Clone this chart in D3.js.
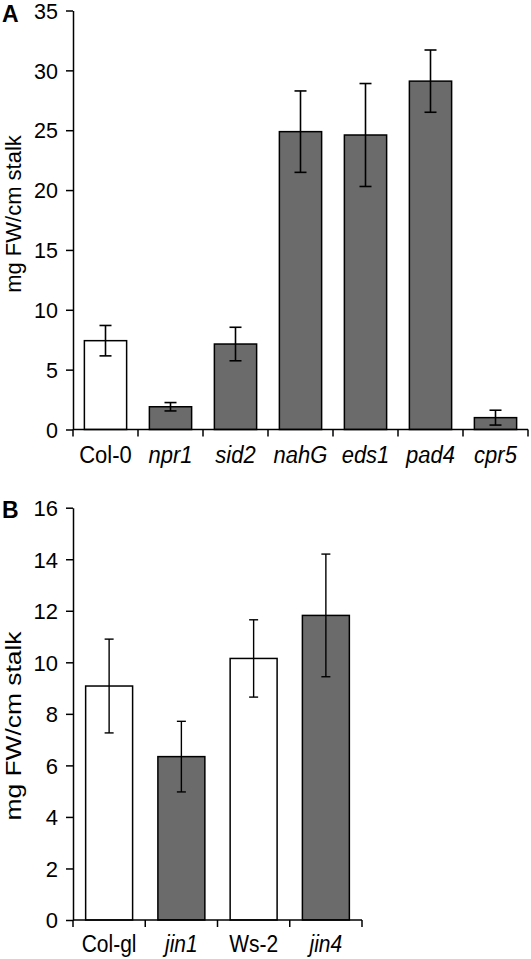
<!DOCTYPE html>
<html><head><meta charset="utf-8">
<script src="https://cdn.jsdelivr.net/npm/d3@7"></script>
<style>
html,body{margin:0;padding:0;background:#fff;}
svg{display:block;font-family:"Liberation Sans",Arial,sans-serif;}
</style></head>
<body>
<svg id="chart" width="531" height="959"></svg>
<script>
// Panel A data
const categoriesA = ["Col-0","npr1","sid2","nahG","eds1","pad4","cpr5"];
const italicA = [false,true,true,true,true,true,true];
const wildTypeA = [true,false,false,false,false,false,false];
const valuesA = [7.42,1.9,7.14,24.88,24.6,29.1,0.99];
const errorsA = [1.27,0.35,1.4,3.4,4.3,2.6,0.62];
const ticksA = [0,5,10,15,20,25,30,35];

// Panel B data
const categoriesB = ["Col-gl","jin1","Ws-2","jin4"];
const italicB = [false,true,false,true];
const wildTypeB = [true,false,true,false];
const valuesB = [9.08,6.34,10.15,11.82];
const errorsB = [1.82,1.37,1.5,2.38];
const ticksB = [0,2,4,6,8,10,12,14,16];

const yTitle = "mg FW/cm stalk";
const FONT = "Liberation Sans, Arial, sans-serif";

const svg = d3.select("#chart");

function panel(cfg){
  const g = svg.append("g");
  const x = d3.scaleBand().domain(cfg.cats).range([cfg.x0, cfg.x1])
    .paddingInner(0.35).paddingOuter(0.175);
  const y = d3.scaleLinear().domain([0, cfg.ymax]).range([cfg.yb, cfg.yt]);
  const data = cfg.cats.map((c,i)=>({c, v:cfg.vals[i], e:cfg.errs[i], it:cfg.ital[i], wt:cfg.wt[i]}));

  // bars
  g.selectAll("rect.bar").data(data).enter().append("rect")
    .attr("x", d=>x(d.c)).attr("width", x.bandwidth())
    .attr("y", d=>y(d.v)).attr("height", d=>y(0)-y(d.v))
    .attr("fill", d=>d.wt ? "#ffffff" : "#6b6b6b")
    .attr("stroke", "#000").attr("stroke-width", 1.5);

  // error bars
  const cap = cfg.cap;
  const cx = d=>x(d.c)+x.bandwidth()/2;
  const eb = g.selectAll("g.err").data(data).enter().append("g")
    .attr("stroke","#000").attr("stroke-width", cfg.ew);
  eb.append("line").attr("x1", cx).attr("x2", cx)
    .attr("y1", d=>y(d.v+d.e)).attr("y2", d=>y(d.v-d.e));
  eb.append("line").attr("x1", d=>cx(d)-cap/2).attr("x2", d=>cx(d)+cap/2)
    .attr("y1", d=>y(d.v+d.e)).attr("y2", d=>y(d.v+d.e));
  eb.append("line").attr("x1", d=>cx(d)-cap/2).attr("x2", d=>cx(d)+cap/2)
    .attr("y1", d=>y(d.v-d.e)).attr("y2", d=>y(d.v-d.e));

  // y axis
  const ya = g.append("g").attr("transform", `translate(${cfg.x0},0)`)
    .call(d3.axisLeft(y).tickValues(cfg.ticks).tickSize(7).tickPadding(8).tickSizeOuter(0));
  ya.select(".domain").attr("stroke-width",1.5);
  ya.selectAll(".tick line").attr("stroke-width",1.5);
  ya.selectAll(".tick text").attr("font-size", cfg.tfs).attr("fill","#000")
    .attr("font-family", FONT).attr("dy", "0.36em");

  // x axis: labels at band centers, ticks at band boundaries
  const xa = g.append("g").attr("transform", `translate(0,${cfg.yb})`)
    .call(d3.axisBottom(x).tickSize(0).tickSizeOuter(0));
  xa.select(".domain").attr("stroke-width",1.5).attr("d", `M${cfg.x0},0H${cfg.x1}`);
  xa.selectAll(".tick text").attr("font-size", cfg.xfs).attr("fill","#000")
    .attr("font-family", FONT).attr("y", 0).attr("dy", 0)
    .attr("transform", `translate(0,${cfg.xbase}) scale(1,${cfg.xsy})`)
    .attr("font-style", (d,i)=>data[i].it ? "italic" : "normal");
  const step = x.step();
  const bounds = cfg.cats.map(c=>x(c) - x.paddingInner()*step/2).concat([cfg.x1]);
  xa.selectAll("line.bt").data(bounds).enter().append("line")
    .attr("x1", d=>d).attr("x2", d=>d).attr("y1",0).attr("y2",7)
    .attr("stroke","#000").attr("stroke-width",1.5);

  // y title
  g.append("text").attr("transform", `translate(${cfg.titleX},${cfg.titleY}) scale(1,${cfg.titleSy}) rotate(-90)`)
    .attr("text-anchor","middle").attr("font-size", cfg.titleFs).attr("font-family", FONT).text(yTitle);

  // panel letter
  g.append("text").attr("x", 2).attr("y", cfg.letterY).attr("font-weight","bold")
    .attr("font-family", FONT).attr("font-size", 23).text(cfg.letter);
}

panel({cats:categoriesA, vals:valuesA, errs:errorsA, ital:italicA, wt:wildTypeA, ticks:ticksA,
  ymax:35, x0:73, x1:528, yb:429.5, yt:10.5, cap:12, ew:1.6, tfs:21.5, xfs:22, xbase:33, xsy:1.05,
  titleX:20.5, titleY:214, titleSy:1.0, titleFs:22, letter:"A", letterY:22});
panel({cats:categoriesB, vals:valuesB, errs:errorsB, ital:italicB, wt:wildTypeB, ticks:ticksB,
  ymax:16, x0:73, x1:362, yb:920, yt:507.7, cap:9, ew:1.4, tfs:22, xfs:21, xbase:32, xsy:1.1,
  titleX:20.5, titleY:726, titleSy:1.2, titleFs:22, letter:"B", letterY:518});
</script>
</body></html>
